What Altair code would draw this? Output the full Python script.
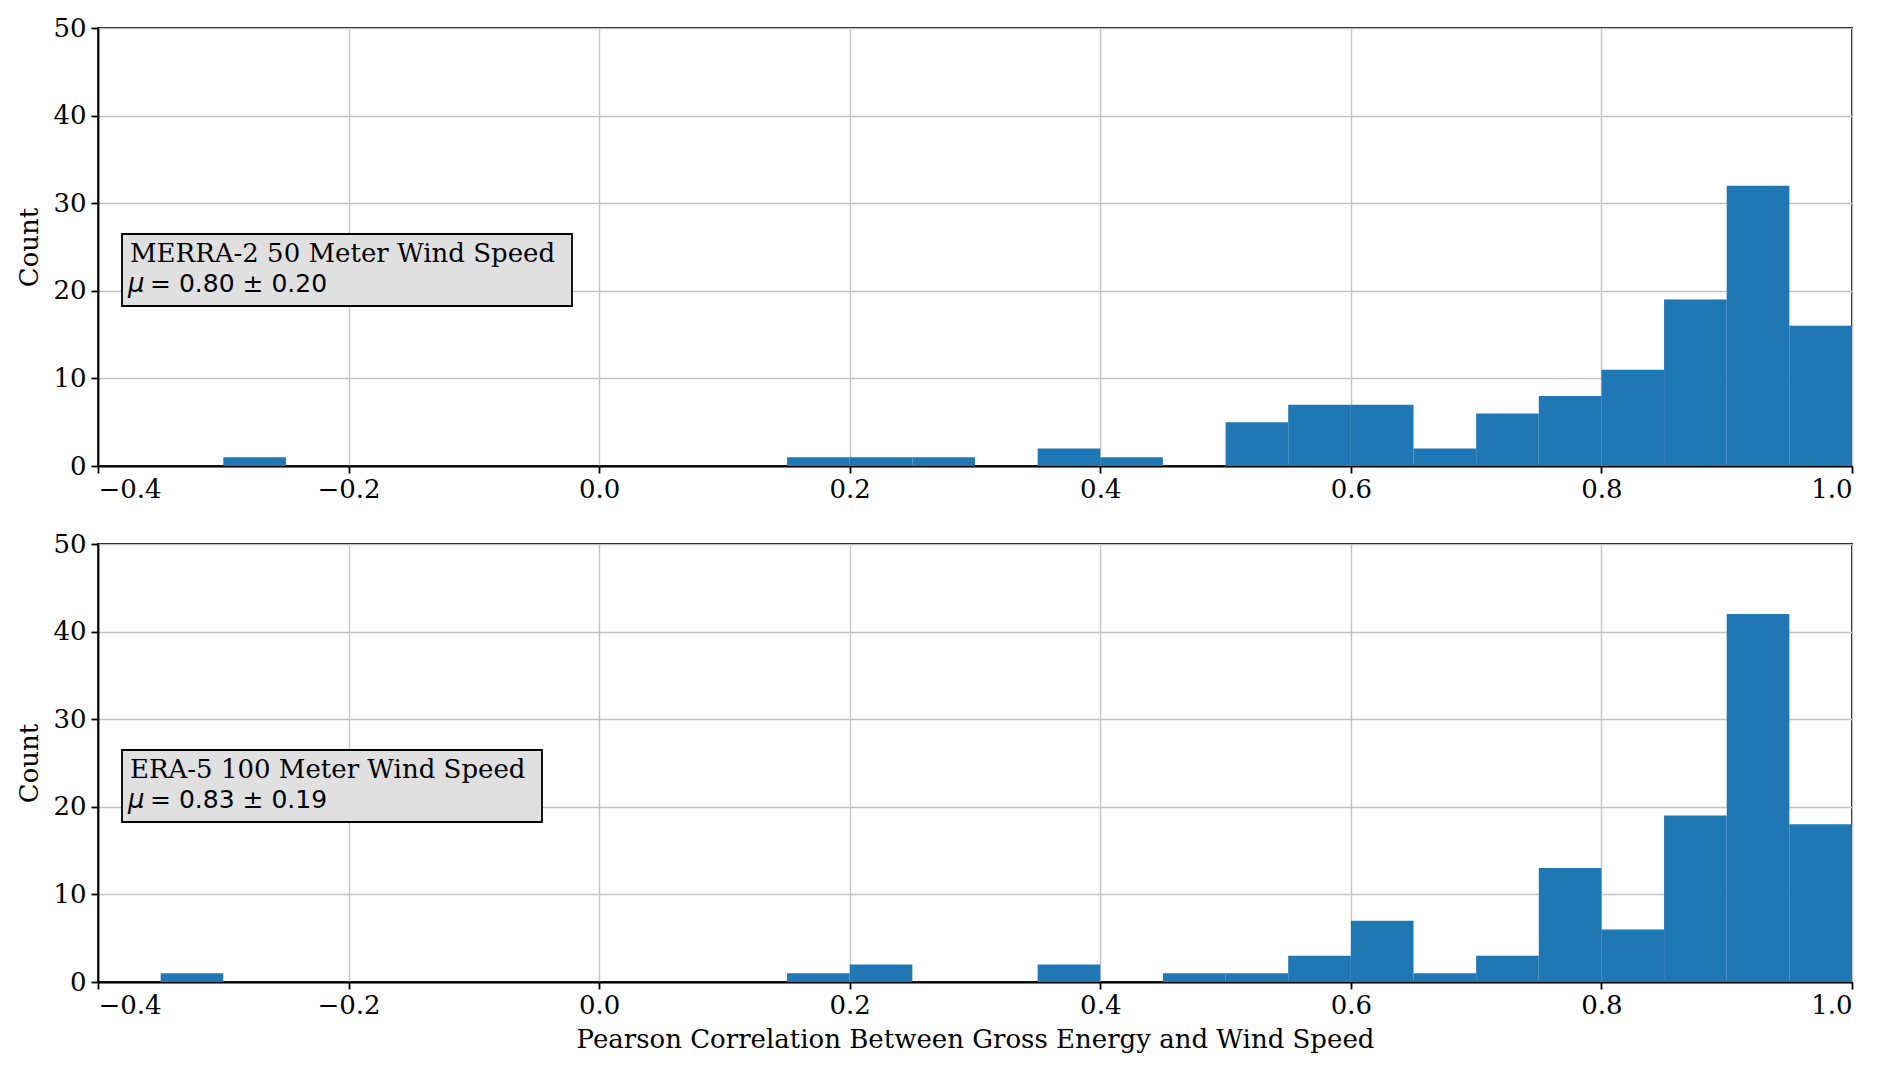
import altair as alt
import pandas as pd

bin_starts = [-0.40, -0.35, -0.30, -0.25, -0.20, -0.15, -0.10, -0.05, 0.00, 0.05,
              0.10, 0.15, 0.20, 0.25, 0.30, 0.35, 0.40, 0.45, 0.50, 0.55,
              0.60, 0.65, 0.70, 0.75, 0.80, 0.85, 0.90, 0.95]
bin_width = 0.05
merra_counts = [0, 0, 1, 0, 0, 0, 0, 0, 0, 0,
                0, 1, 1, 1, 0, 2, 1, 0, 5, 7,
                7, 2, 6, 8, 11, 19, 32, 16]
era_counts = [0, 1, 0, 0, 0, 0, 0, 0, 0, 0,
              0, 1, 2, 0, 0, 2, 0, 1, 1, 3,
              7, 1, 3, 13, 6, 19, 42, 18]
x_ticks = [-0.4, -0.2, 0.0, 0.2, 0.4, 0.6, 0.8, 1.0]
y_ticks = [0, 10, 20, 30, 40, 50]
labels_line1 = ["MERRA-2 50 Meter Wind Speed", "ERA-5 100 Meter Wind Speed"]
labels_line2 = ["= 0.80 ± 0.20", "= 0.83 ± 0.19"]
box_widths = [450, 420]
x_title = "Pearson Correlation Between Gross Energy and Wind Speed"

W, H = 1754, 438
SERIF = "DejaVu Serif"
SANS = "DejaVu Sans"
FS = 26


def panel(counts, line1, line2, box_w, show_title):
    df = pd.DataFrame({
        "start": bin_starts,
        "end": [round(s + bin_width, 2) for s in bin_starts],
        "count": counts,
    })
    df = df[df["count"] > 0]
    xaxis = alt.Axis(values=x_ticks, format=".1f", title=x_title if show_title else None,
                     grid=True, labelPadding=3, titlePadding=8)
    bars = alt.Chart(df).mark_rect(color="#1f77b4").encode(
        x=alt.X("start:Q", scale=alt.Scale(domain=[-0.4, 1.0], nice=False, zero=False),
                axis=xaxis),
        x2="end:Q",
        y=alt.Y("count:Q", scale=alt.Scale(domain=[0, 50], nice=False),
                axis=alt.Axis(values=y_ticks, title="Count", grid=True)),
        y2=alt.datum(0),
    )
    box_df = pd.DataFrame({"l1": [line1], "l2": [line2]})
    box = alt.Chart(box_df).mark_rect(fill="#e0e0e0", stroke="black", strokeWidth=1.8).encode(
        x=alt.value(24), x2=alt.value(24 + box_w), y=alt.value(206), y2=alt.value(278)
    )
    t1 = alt.Chart(box_df).mark_text(align="left", baseline="alphabetic", font=SERIF,
                                     fontSize=FS, color="black").encode(
        x=alt.value(32), y=alt.value(234), text="l1:N")
    tmu = alt.Chart(box_df).mark_text(align="left", baseline="alphabetic", font=SANS,
                                      fontSize=FS, fontStyle="italic", color="black").encode(
        x=alt.value(30), y=alt.value(264), text=alt.value("μ"))
    t2 = alt.Chart(box_df).mark_text(align="left", baseline="alphabetic", font=SANS,
                                     fontSize=FS - 1, color="black").encode(
        x=alt.value(52), y=alt.value(264), text="l2:N")
    return alt.layer(bars, box, t1, tmu, t2).properties(width=W, height=H)


p1 = panel(merra_counts, labels_line1[0], labels_line2[0], box_widths[0], False)
p2 = panel(era_counts, labels_line1[1], labels_line2[1], box_widths[1], True)

chart = alt.vconcat(p1, p2, spacing=78, bounds="flush").properties(
    padding={"left": 8, "top": 6, "right": 5, "bottom": 5}
).configure_view(
    stroke="black", strokeWidth=1.8
).configure_axis(
    labelFont=SERIF, titleFont=SERIF, labelFontSize=FS, titleFontSize=FS,
    labelColor="black", titleColor="black", titleFontWeight="normal",
    domainColor="black", domainWidth=1.8, tickColor="black", tickWidth=1.8, tickSize=7,
    gridColor="#c4c4c4", gridWidth=1.4,
).configure_axisY(titlePadding=10, labelPadding=5)

chart.save("out.html", embed_options={"renderer": "svg", "actions": False})
